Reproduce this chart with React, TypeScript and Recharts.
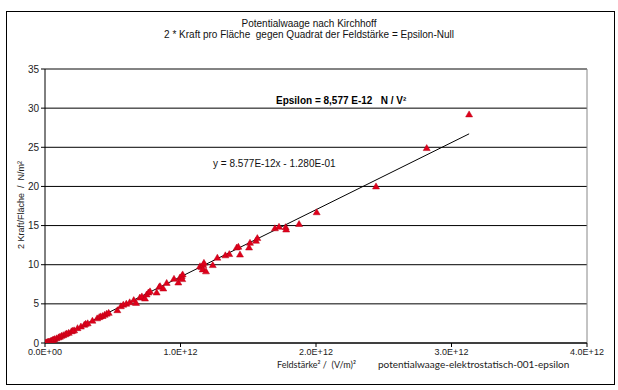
import {
  ScatterChart,
  Scatter,
  XAxis,
  YAxis,
  CartesianGrid,
  ReferenceLine,
} from 'recharts'

// Feldstärke² in units of 1E+12 (V/m)²
const fieldSq = [
  0.0, 0.005, 0.012, 0.018, 0.025, 0.032, 0.04, 0.048, 0.055, 0.062,
  0.07, 0.085, 0.1, 0.11, 0.122, 0.135, 0.15, 0.16, 0.175, 0.195,
  0.205, 0.215, 0.24, 0.265, 0.29, 0.3, 0.315, 0.35, 0.385, 0.4,
  0.41, 0.425, 0.44, 0.455, 0.47, 0.534, 0.56, 0.578, 0.6, 0.625,
  0.655, 0.672, 0.7, 0.715, 0.738, 0.75, 0.763, 0.775, 0.824, 0.843,
  0.849, 0.873, 0.898, 0.952, 0.984, 0.996, 1.009, 1.016, 1.013, 1.144,
  1.156, 1.168, 1.173, 1.164, 1.188, 1.238, 1.272, 1.331, 1.36, 1.415,
  1.427, 1.439, 1.506, 1.513, 1.557, 1.567, 1.697, 1.727, 1.776, 1.78,
  1.875, 2.005, 2.443, 2.817, 3.13,
]

// 2 Kraft/Fläche in N/m²
const kraft = [
  0.0, 0.03, 0.08, 0.12, 0.18, 0.15, 0.25, 0.3, 0.38, 0.42,
  0.5, 0.6, 0.72, 0.8, 0.92, 1.0, 1.12, 1.22, 1.3, 1.5,
  1.58, 1.62, 1.9, 2.1, 2.32, 2.45, 2.52, 2.85, 3.15, 3.3,
  3.4, 3.45, 3.6, 3.75, 3.85, 4.19, 4.7, 4.9, 5.02, 5.2,
  5.48, 5.12, 5.8, 5.95, 5.68, 6.2, 6.45, 6.6, 6.45, 7.17,
  7.26, 6.96, 7.68, 8.2, 7.73, 8.37, 8.54, 8.76, 8.16, 9.8,
  9.7, 9.95, 10.24, 9.4, 9.15, 9.95, 10.9, 11.2, 11.36, 12.2,
  12.3, 11.3, 12.2, 12.8, 13.06, 13.4, 14.65, 14.85, 14.8, 14.5,
  15.2, 16.7, 20.0, 24.9, 29.2,
]

// linear trend from the chart: y = 8.577E-12x - 1.280E-01
const slope = 8.577e-12
const intercept = -0.128
const trendX = [0, 3.13e12]

const xTicks = [0, 1e12, 2e12, 3e12, 4e12]
const yTicks = [0, 5, 10, 15, 20, 25, 30, 35]

const points = fieldSq.map((f, i) => ({ x: f * 1e12, y: kraft[i] }))
const trend = trendX.map((x) => ({ x, y: slope * x + intercept }))

const arial = '"Liberation Sans", Arial, sans-serif'

const Triangle = (props: any) => {
  const { cx, cy } = props
  if (cx == null || cy == null) return null
  return (
    <polygon
      points={`${cx},${cy - 3.5} ${cx + 3.5},${cy + 2.5} ${cx - 3.5},${cy + 2.5}`}
      fill="#e0001b"
      stroke="#b80016"
      strokeWidth={0.5}
    />
  )
}

const fmtExp = (v: number) => {
  if (v === 0) return '0.0E+00'
  const e = Math.floor(Math.log10(v))
  return `${(v / 10 ** e).toFixed(1)}E+${String(e).padStart(2, '0')}`
}

export default function App() {
  return (
    <div style={{ position: 'absolute', left: 0, top: 0, width: 618, height: 390, background: '#fff', fontFamily: arial }}>
      <div
        style={{
          position: 'absolute',
          left: 6,
          top: 11,
          width: 607,
          height: 372,
          border: '1px solid #000',
        }}
      />
      <div
        style={{
          position: 'absolute',
          top: 18,
          width: 618,
          textAlign: 'center',
          fontSize: 10,
          lineHeight: '11px',
          color: '#111',
          whiteSpace: 'pre',
        }}
      >
        {'Potentialwaage nach Kirchhoff\n2 * Kraft pro Fläche  gegen Quadrat der Feldstärke = Epsilon-Null'}
      </div>
      <ScatterChart
        width={618}
        height={390}
        margin={{ top: 69, right: 31, bottom: 0, left: 0 }}
        style={{ position: 'absolute', left: 0, top: 0 }}
      >
        <CartesianGrid vertical={false} stroke="#000" strokeWidth={1} />
        <XAxis
          type="number"
          dataKey="x"
          domain={[0, 4e12]}
          ticks={xTicks}
          allowDataOverflow
          height={47}
          tickFormatter={fmtExp}
          tick={{ fontSize: 9, fill: '#222', fontFamily: arial }}
          stroke="#000"
          tickSize={4}
        />
        <YAxis
          type="number"
          dataKey="y"
          domain={[0, 35]}
          ticks={yTicks}
          allowDataOverflow
          width={45}
          tick={{ fontSize: 10, fill: '#222', fontFamily: arial }}
          stroke="#000"
          tickSize={4}
        />
        <ReferenceLine y={35} stroke="#888" />
        <ReferenceLine x={4e12} stroke="#888" />
        <Scatter data={trend} line={{ stroke: '#000', strokeWidth: 1 }} shape={() => null} isAnimationActive={false} />
        <Scatter data={points} shape={Triangle} isAnimationActive={false} />
      </ScatterChart>
      <div
        style={{
          position: 'absolute',
          left: 21,
          top: 205,
          transform: 'translate(-50%, -50%) rotate(-90deg)',
          fontSize: 9,
          whiteSpace: 'pre',
          color: '#222',
        }}
      >
        {'2 Kraft/Fläche  /  N/m²'}
      </div>
      <div style={{ position: 'absolute', left: 276, top: 95, fontSize: 10, fontWeight: 'bold', whiteSpace: 'pre', color: '#000' }}>
        {'Epsilon = 8,577 E-12   N / V²'}
      </div>
      <div style={{ position: 'absolute', left: 213, top: 158, fontSize: 10, whiteSpace: 'pre', color: '#111' }}>
        {'y = 8.577E-12x - 1.280E-01'}
      </div>
      <div style={{ position: 'absolute', left: 277, top: 359, fontSize: 9, whiteSpace: 'pre', color: '#222', fontFamily: 'Lato, sans-serif' }}>
        {'Feldstärke² /  (V/m)²'}
      </div>
      <div style={{ position: 'absolute', left: 378, top: 358, fontSize: 10, whiteSpace: 'pre', color: '#222', fontFamily: 'Lato, sans-serif' }}>
        potentialwaage-elektrostatisch-001-epsilon
      </div>
    </div>
  )
}
